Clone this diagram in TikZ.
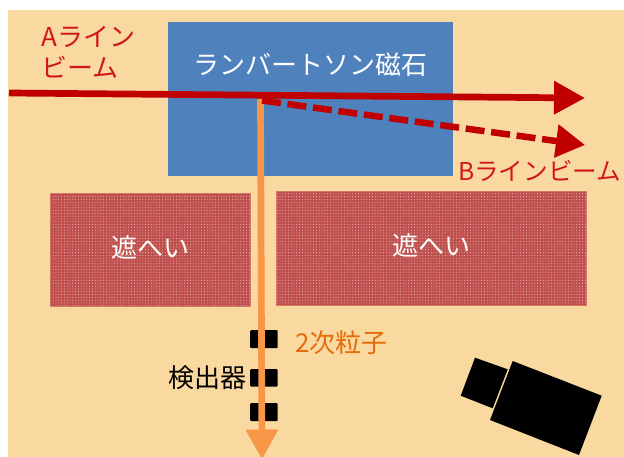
\documentclass[tikz,border=0pt]{standalone}
\usepackage{fontspec}
\setmainfont{Noto Sans CJK JP}
\usetikzlibrary{arrows.meta,patterns.meta}
\definecolor{peach}{HTML}{FAD9A0}
\definecolor{magnet}{HTML}{4F81BD}
\definecolor{beam}{HTML}{C00000}
\definecolor{beamtext}{HTML}{D01818}
\definecolor{second}{HTML}{F79646}
\definecolor{secondtext}{HTML}{E46C0A}
\definecolor{shieldbase}{HTML}{C0504D}
\tikzset{
  x=1pt,y=-1pt,
  lbl/.style={inner sep=0pt,font=\fontsize{26}{31}\selectfont,align=left},
  shield/.style={inner sep=0pt,draw=shieldbase!70!peach,line width=.6pt,
    pattern={Dots[radius=.45pt,distance=2.8pt]},pattern color=white!75!shieldbase,
    preaction={fill=shieldbase}},
  detector/.style={fill=black,rounded corners=1pt,inner sep=0pt,minimum width=27.5pt},
  beamline/.style={draw=beam,line width=6.7pt,-{Triangle[length=31pt,width=32pt,fill=beam]}},
  beamdash/.style={draw=beam,line width=6.5pt,dash pattern=on 19pt off 6.7pt,
    -{Triangle[length=29pt,width=32pt,fill=beam,sep=0pt]}},
  secondary/.style={draw=second,line width=6.7pt,-{Triangle[length=30pt,width=31pt,fill=second]}},
  camerabody/.style={fill=black}
}
\begin{document}
\begin{tikzpicture}
\useasboundingbox (0,0) rectangle (624,457);
\fill[white] (0,0) rectangle (624,457);
\clip (0,0) rectangle (624,457);
\fill[peach] (8,10) rectangle (624,457);
% magnet and shields
\node[fill=magnet,inner sep=0pt,minimum width=285pt,minimum height=154pt,anchor=north west] (magnet) at (168,21.5) {};
\node[lbl,text=white] (magnetlabel) at (310.5,64.5) {ランバートソン磁石};
\node[shield,minimum width=200pt,minimum height=112.5pt,anchor=north west] (shieldL) at (50,193.5) {};
\node[shield,minimum width=310pt,minimum height=114pt,anchor=north west] (shieldR) at (276,191) {};
\node[lbl,text=white] at (150,248) {遮へい};
\node[lbl,text=white] at (431,246) {遮へい};
% detectors
\node[detector,minimum height=18pt,anchor=north west] (det1) at (250,330) {};
\node[detector,minimum height=17.5pt,anchor=north west] (det2) at (250,369) {};
\node[detector,minimum height=18pt,anchor=north west] (det3) at (250,403) {};
% beams
\coordinate (ain) at (9,93);
\coordinate (aout) at (585,98);
\coordinate (bstart) at (262,100.5);
\coordinate (bout) at (585,145);
\coordinate (sstart) at (260.5,99);
\coordinate (send) at (262,459.5);
\draw[secondary] (sstart) -- (send);
\draw[beamdash] (bstart) -- (bout);
\draw[beamline] (ain) -- (aout);
% labels
\node[lbl,text=beamtext,anchor=west] (alabel) at (41,52.5) {Aライン\\ビーム};
\node[lbl,text=beamtext,anchor=west,font=\fontsize{24.6}{31}\selectfont] (blabel) at (458,171) {Bラインビーム};
\node[lbl,text=secondtext,anchor=west] (slabel) at (295,343) {2次粒子};
\node[lbl,text=black,anchor=east] (dlabel) at (246.5,377.5) {検出器};
% camera
\fill[camerabody] (475,357.7) -- (507.7,369.3) -- (492.7,408.3) -- (460.7,395.7) -- cycle;
\fill[camerabody] (512.7,361) -- (601.7,395.7) -- (579,455) -- (490,420) -- cycle;
\end{tikzpicture}
\end{document}
